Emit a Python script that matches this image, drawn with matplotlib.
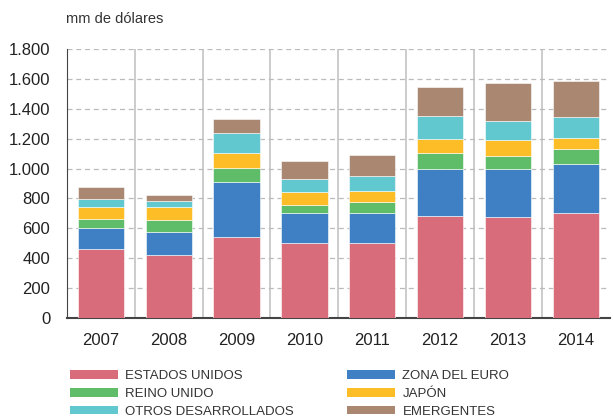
import numpy as np
import matplotlib
matplotlib.use('Agg')
import matplotlib.pyplot as plt
from matplotlib.patches import Patch

# datos (mm de dólares)
years = ['2007', '2008', '2009', '2010', '2011', '2012', '2013', '2014']
estados_unidos = [462, 422, 542, 504, 500, 685, 676, 701]
zona_euro = [138, 156, 370, 201, 205, 310, 321, 332]
reino_unido = [65, 80, 92, 53, 71, 109, 89, 100]
japon = [76, 83, 100, 85, 76, 96, 105, 74]
otros_desarrollados = [55, 44, 131, 85, 98, 152, 126, 136]
emergentes = [83, 38, 95, 125, 141, 196, 254, 245]

series = [
    ('ESTADOS UNIDOS', estados_unidos, '#d86c7a'),
    ('ZONA DEL EURO', zona_euro, '#3f7fc3'),
    ('REINO UNIDO', reino_unido, '#5fbd6a'),
    ('JAPÓN', japon, '#fdbd27'),
    ('OTROS DESARROLLADOS', otros_desarrollados, '#62c8d0'),
    ('EMERGENTES', emergentes, '#aa8770'),
]

plt.rcParams['font.family'] = ['Liberation Sans', 'DejaVu Sans']

fig = plt.figure(figsize=(6.13, 4.19), dpi=100)
ax = fig.add_axes([0.109, 0.241, 0.886, 0.642])

x = np.arange(len(years))
bottom = np.zeros(len(years))
for name, vals, col in series:
    ax.bar(x, vals, width=0.68, bottom=bottom, color=col,
           edgecolor='#ffffff', linewidth=0.4, zorder=3)
    bottom += np.array(vals)

ax.set_xlim(-0.5, 7.5)
ax.set_ylim(0, 1800)
ax.set_yticks(range(0, 1801, 200))
ax.set_yticklabels([f'{v:,}'.replace(',', '.') for v in range(0, 1801, 200)],
                   fontsize=12, color='#222222')
ax.set_xticks(x)
ax.set_xticklabels(years, fontsize=12, color='#222222')
ax.tick_params(axis='x', length=0, pad=11)
ax.tick_params(axis='y', length=0, pad=12)

# rejilla
ax.yaxis.grid(True, linestyle=(0, (4, 3)), color='#bbbbbb', linewidth=0.9, zorder=0)
for sep in np.arange(0.5, 7.5, 1):
    ax.axvline(sep, color='#c4c4c4', linewidth=1.2, zorder=1)

for s in ['top', 'right']:
    ax.spines[s].set_visible(False)
ax.spines['left'].set_color('#444444')
ax.spines['bottom'].set_color('#444444')
ax.spines['bottom'].set_linewidth(1.5)

fig.text(0.107, 0.945, 'mm de dólares', fontsize=10.5, color='#333333')

# leyenda en dos columnas
cols = [[0, 2, 4], [1, 3, 5]]
xpos = [70 / 613, 347 / 613]
for idx, xp in zip(cols, xpos):
    handles = [Patch(facecolor=series[i][2], label=series[i][0]) for i in idx]
    leg = fig.legend(handles=handles, loc='upper left', bbox_to_anchor=(xp, 0.116),
                     frameon=False, fontsize=9.5, handlelength=3.6, handleheight=0.65,
                     labelspacing=0.42, handletextpad=0.6, borderpad=0, borderaxespad=0)
    for t in leg.get_texts():
        t.set_color('#333333')

fig.savefig('out.png', dpi=100)
